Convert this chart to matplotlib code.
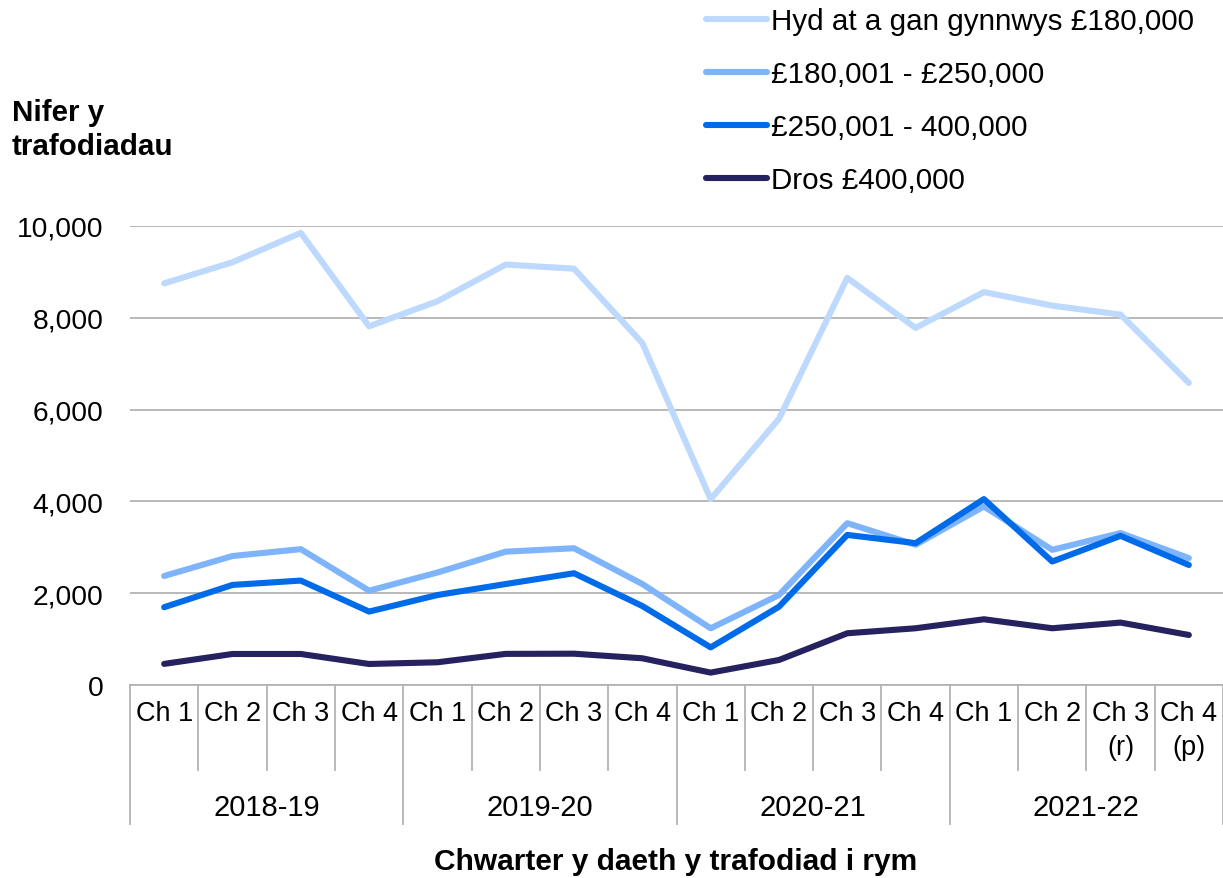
import numpy as np
import matplotlib
matplotlib.use("Agg")
import matplotlib.pyplot as plt
import matplotlib.transforms as mtransforms

plt.rcParams['font.family'] = ['Liberation Sans', 'DejaVu Sans']

# data
quarters = ['Ch 1', 'Ch 2', 'Ch 3', 'Ch 4'] * 3 + ['Ch 1', 'Ch 2', 'Ch 3\n(r)', 'Ch 4\n(p)']
years = ['2018-19', '2019-20', '2020-21', '2021-22']

up_to_180k = [8750, 9210, 9850, 7815, 8360, 9160, 9070, 7450,
              4050, 5800, 8870, 7780, 8560, 8265, 8070, 6580]
k180_250 = [2375, 2810, 2960, 2055, 2450, 2905, 2980, 2200,
            1235, 1960, 3525, 3055, 3890, 2945, 3310, 2765]
k250_400 = [1695, 2180, 2275, 1600, 1960, 2200, 2435, 1720,
            820, 1705, 3270, 3090, 4050, 2690, 3250, 2615]
over_400k = [460, 676, 676, 458, 495, 678, 682, 582,
             270, 545, 1127, 1236, 1432, 1236, 1360, 1090]

series_names = ['Hyd at a gan gynnwys £180,000', '£180,001 - £250,000',
                '£250,001 - 400,000', 'Dros £400,000']
colors = ['#BDD9FD', '#7EB4FB', '#006BE9', '#26225F']

fig = plt.figure(figsize=(12.23, 8.79), dpi=100)
ax = fig.add_axes([130 / 1223, 1 - 686 / 879, 1 - 130 / 1223, 459 / 879])

x = np.arange(len(quarters))
lines = []
for vals, name, c in zip([up_to_180k, k180_250, k250_400, over_400k], series_names, colors):
    ln, = ax.plot(x, vals, color=c, lw=4.4, label=name, solid_capstyle='round')
    lines.append(ln)

ax.set_xlim(-0.5, len(quarters) - 0.5)
ax.set_ylim(0, 10000)
ax.set_yticks(range(0, 10001, 2000))
ax.set_yticklabels([f'{v:,}' for v in range(0, 10001, 2000)], fontsize=20.3)
ax.tick_params(axis='y', length=0, pad=19)
ax.set_xticks([])
ax.yaxis.grid(True, color='#b3b3b3', lw=1.3)
ax.set_axisbelow(True)
for s in ['left', 'right', 'top']:
    ax.spines[s].set_visible(False)
ax.spines['bottom'].set_color('#b3b3b3')
ax.spines['bottom'].set_linewidth(1.3)

# two-level category axis
trans = mtransforms.blended_transform_factory(ax.transData, ax.transAxes)
for i, q in enumerate(quarters):
    ax.text(i, -0.033, q, transform=trans, ha='center', va='top', fontsize=19.5,
            linespacing=1.4)
for i in range(len(quarters) + 1):
    bottom = -0.303 if i % 4 == 0 else -0.185
    ax.plot([i - 0.5, i - 0.5], [0, bottom], transform=trans, color='#b3b3b3',
            lw=1.3, clip_on=False)
for j, yr in enumerate(years):
    ax.text(j * 4 + 1.5, -0.266, yr, transform=trans, ha='center', va='center',
            fontsize=21)

fig.text(676 / 1223, 1 - 862 / 879, 'Chwarter y daeth y trafodiad i rym',
         ha='center', va='center', fontsize=21.5, fontweight='bold')
fig.text(12 / 1223, 1 - 130 / 879, 'Nifer y\ntrafodiadau', ha='left', va='center',
         fontsize=21.3, fontweight='bold', linespacing=1.3)

fig.legend(handles=lines, loc='upper left', bbox_to_anchor=(706 / 1223, 1 - 8 / 879),
           frameon=False, fontsize=21.3, handlelength=2.05, handletextpad=0.14,
           labelspacing=0.85, borderpad=0, borderaxespad=0)

fig.savefig('out.png', dpi=100)
